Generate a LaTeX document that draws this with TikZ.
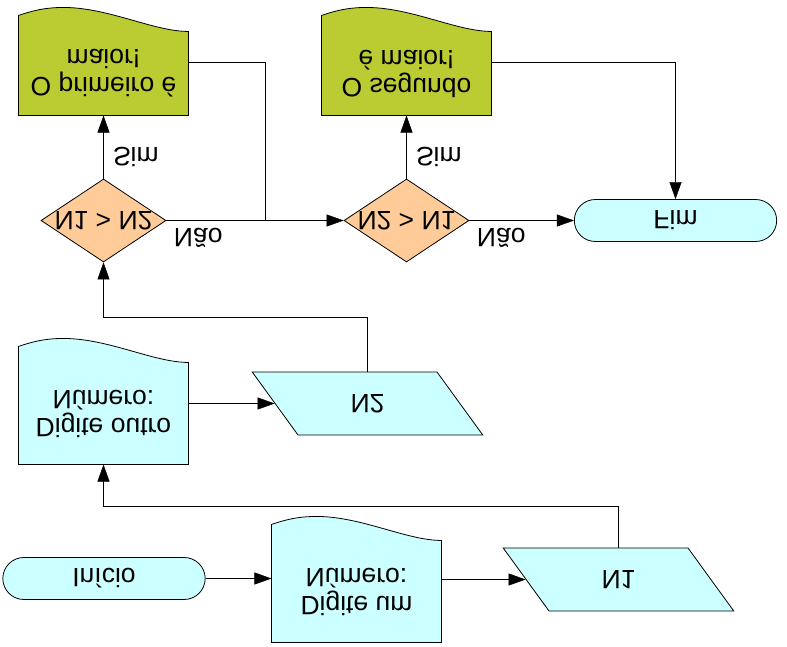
\documentclass[tikz,border=0pt]{standalone}
\usepackage{fontspec}
\setmainfont{Liberation Sans}
\usetikzlibrary{arrows.meta, shapes.geometric, shapes.misc, calc, backgrounds}

\definecolor{fundoverde}{HTML}{BBCC33}
\definecolor{fundociano}{HTML}{CCFFFF}
\definecolor{fundolaranja}{HTML}{FFCC99}

% document shape: straight body plus wavy edge
\newcommand{\docshape}[2]{%
  \begin{pgfonlayer}{background}
    \filldraw[fill=#2, line width=0.8pt] (#1.north west) -- (#1.north east) -- (#1.south east)
      .. controls +(-35,0) and +(45,0) .. ($(#1.south west)+(45,-24)$)
      .. controls +(-20,0) and +(12,-4) .. ($(#1.south west)+(0,-16)$) -- cycle;
  \end{pgfonlayer}}

\begin{document}
\begin{tikzpicture}[x=1bp, y=1bp, yscale=-1, line width=1.1bp,
    >={Triangle[length=17bp, width=12bp]},
    every node/.style={transform shape, font=\fontsize{26.5bp}{28bp}\selectfont},
    docbox/.style={rectangle, align=center, inner sep=0pt, minimum width=169bp, minimum height=#1},
    decisao/.style={diamond, draw, line width=0.8bp, fill=fundolaranja, inner sep=0pt, minimum width=125bp, minimum height=83bp},
    terminal/.style={rounded rectangle, draw, line width=0.8bp, fill=fundociano, minimum width=209bp, minimum height=42bp},
    entrada/.style={trapezium, trapezium left angle=54, trapezium right angle=126,
      draw, line width=0.8bp, fill=fundociano, text width=139bp, align=center,
      text height=19bp, text depth=0pt, inner xsep=0pt, inner ysep=22bp}]
  \useasboundingbox (0,0) rectangle (787,647);

  % Nodes:
  \node[terminal] (ini) at (104,578.5) {Início};
  \node[docbox=101bp] (doc4) at (356.5,591.5) {Digite um\\Número:};
  \node[entrada] (n1) at (618.5,579.5) {N1};
  \node[docbox=101bp] (doc3) at (103.5,413.5) {Digite outro\\Número:};
  \node[entrada] (n2) at (367.5,403.5) {N2};
  \node[decisao] (d1) at (103.5,220.5) {\makebox[0pt]{N1 > N2}};
  \node[decisao] (d2) at (406.5,220.5) {\makebox[0pt]{N2 > N1}};
  \node[docbox=83bp] (doc1) at (103.5,73.5) {O primeiro é\\maior!};
  \node[docbox=83bp] (doc2) at (406.5,73.5) {O segundo\\é maior!};
  \node[terminal] (fim) at (675.5,220.5) {Fim};
  \coordinate (j1) at (265.5,220.5);

  \docshape{doc1}{fundoverde}
  \docshape{doc2}{fundoverde}
  \docshape{doc3}{fundociano}
  \docshape{doc4}{fundociano}

  % Connectors:
  \draw[->] (ini.east) -- (ini.east -| doc4.west);
  \draw[->] (n1.west -| doc4.east) -- (n1.west);
  \draw[->] (n1.center |- n1.south) -- ++(0,-41.5) -| (doc3);
  \draw[->] (n2.west -| doc3.east) -- (n2.west);
  \draw[->] (n2.center |- n2.south) -- ++(0,-54.5) -| (d1);
  \draw[->] (d1) -- (doc1) node[pos=0.35, right=6bp] {Sim};
  \draw[->] (d1) -- (d2) node[pos=0, above right=4bp] {Não};
  \draw ($(doc1.east)+(0,-11)$) -| (j1);
  \draw[->] (d2) -- (doc2) node[pos=0.35, right=6bp] {Sim};
  \draw[->] (d2) -- (fim) node[pos=0, above right=4bp] {Não};
  \draw[->] ($(doc2.east)+(0,-11)$) -| (fim);
\end{tikzpicture}
\end{document}
